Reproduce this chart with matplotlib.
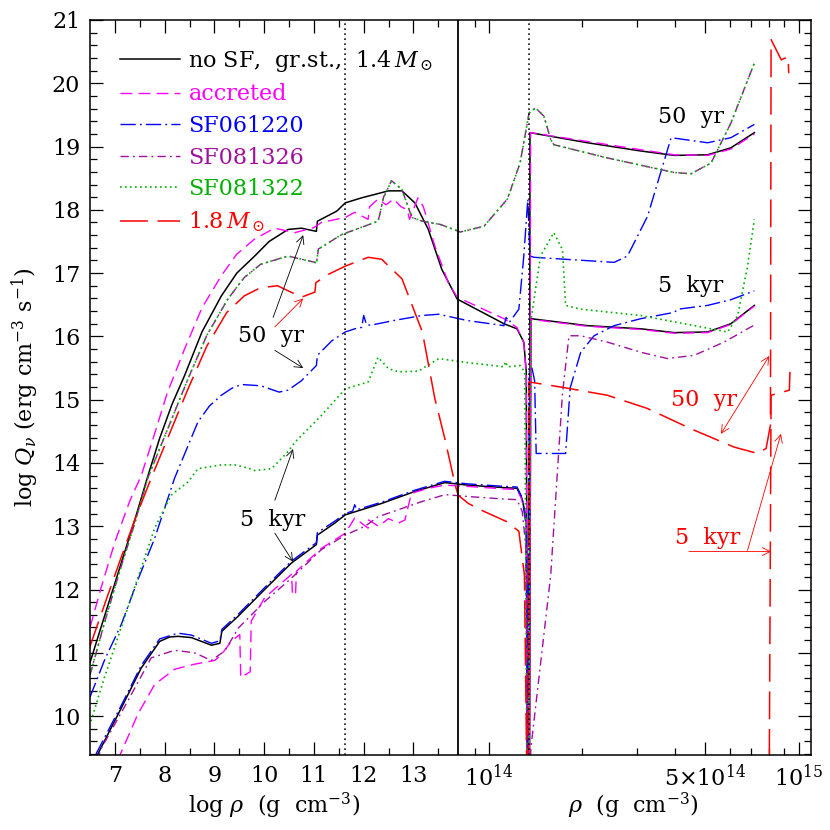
import numpy as np
import matplotlib
matplotlib.use("Agg")
import matplotlib.pyplot as plt
from matplotlib.ticker import FixedLocator, FixedFormatter, MultipleLocator

# curves: log rho (g cm^-3) and log Q_nu (erg cm^-3 s^-1)

# no SF, ground state crust, 1.4 Msun
nosf50_lr = [6.49, 6.8, 7.1, 7.4, 7.65, 7.9, 8.15, 8.4, 8.75, 9.14, 9.45, 9.81, 10.1, 10.48, 10.75, 11.05, 11.07,
             11.46, 11.63, 11.96, 12.5, 12.77, 13.03, 13.3, 13.57, 13.88, 14.048, 14.09, 14.112, 14.12, 14.124,
             14.13, 14.132, 14.318, 14.49, 14.598, 14.706, 14.781, 14.857]
nosf50_lq = [10.82, 11.6, 12.35, 13.1, 13.76, 14.39, 14.93, 15.38, 16.07, 16.64, 17.0, 17.27, 17.5, 17.69, 17.71, 17.66, 17.82,
             17.98, 18.11, 18.19, 18.30, 18.30, 18.11, 17.69, 17.06, 16.59, 16.20, 16.12, 15.91, 15.44, 9.0,
             9.0, 19.22, 19.06, 18.93, 18.86, 18.87, 18.98, 19.22]
nosf5_lr = [6.5, 6.69, 7.13, 7.53, 7.90, 8.10, 8.27, 8.54, 8.94, 9.11, 9.15, 9.48, 10.01, 10.55, 11.05, 11.07,
            11.42, 11.63, 12.36, 13.03, 13.63, 13.93, 14.048, 14.09, 14.106, 14.12, 14.124, 14.13, 14.135,
            14.318, 14.49, 14.598, 14.706, 14.781, 14.857]
nosf5_lq = [9.15, 9.45, 10.13, 10.76, 11.18, 11.25, 11.26, 11.24, 11.12, 11.15, 11.34, 11.58, 12.0, 12.42, 12.71, 12.86,
            13.05, 13.18, 13.36, 13.55, 13.69, 13.65, 13.61, 13.60, 13.44, 13.13, 9.0, 9.0, 16.28,
            16.17, 16.12, 16.06, 16.07, 16.2, 16.49]

# accreted crust
acc50_lr = [6.5, 6.72, 7.0, 7.3, 7.53, 7.77, 8.05, 8.4, 8.75, 9.14, 9.45, 9.81, 10.21, 10.62, 11.0, 11.15, 11.63,
            11.82, 12.09, 12.12, 12.29, 12.45, 12.6, 12.75, 12.88, 12.92, 13.0, 13.09, 13.2, 13.43, 13.70,
            13.88, 14.048, 14.09, 14.112, 14.12, 14.124, 14.13, 14.134, 14.318, 14.49, 14.598, 14.706,
            14.781, 14.857]
acc50_lq = [11.4, 12.02, 12.75, 13.4, 13.8, 14.39, 15.1, 15.80, 16.45, 16.96, 17.3, 17.54, 17.71, 17.64, 17.72, 17.80, 17.88,
            17.96, 17.85, 18.05, 18.17, 18.08, 18.17, 18.05, 18.0, 17.85, 18.0, 18.19, 18.05, 17.43, 16.85,
            16.62, 16.28, 16.14, 15.9, 15.4, 9.0, 9.0, 19.22, 19.08, 18.95, 18.87, 18.86,
            18.96, 19.2]
acc5_lr = [7.05, 7.14, 7.46, 7.80, 8.20, 8.60, 9.01, 9.14, 9.34, 9.51, 9.53, 9.72, 9.74, 10.01, 10.55, 10.57,
           10.63, 10.65, 11.15, 11.63, 11.82, 12.09, 12.1, 12.3, 12.5, 12.7, 12.83, 12.96, 13.3, 13.63, 13.93,
           14.048, 14.09, 14.106, 14.12, 14.124, 14.13, 14.135, 14.318, 14.49, 14.598, 14.706, 14.781, 14.857]
acc5_lq = [9.3, 9.45, 10.03, 10.50, 10.74, 10.82, 10.88, 10.97, 11.18, 11.29, 10.61, 10.70, 11.50, 11.87, 12.24, 11.92,
           11.92, 12.29, 12.65, 12.89, 13.13, 12.97, 13.1, 13.0, 13.12, 13.05, 13.10, 13.52, 13.6, 13.65, 13.63,
           13.59, 13.58, 13.42, 13.1, 9.0, 9.0, 16.27, 16.16, 16.11, 16.05, 16.06, 16.19, 16.48]

# SF061220
sf0612_50_lr = [6.5, 6.8, 7.13, 7.46, 7.80, 8.2, 8.67, 8.9, 9.14, 9.35, 9.54, 9.93, 10.30, 10.48, 10.75, 11.05, 11.07,
                11.36, 11.63, 11.90, 11.96, 12.0, 12.06, 12.16, 12.6, 13.17, 13.51, 13.93, 14.048, 14.055,
                14.065, 14.096, 14.112, 14.125, 14.132, 14.145, 14.404, 14.447, 14.512, 14.588, 14.706, 14.781,
                14.857]
sf0612_50_lq = [10.3, 10.9, 11.45, 12.15, 12.81, 13.76, 14.65, 14.9, 15.07, 15.18, 15.24, 15.22, 15.12, 15.15, 15.30, 15.54,
                15.70, 15.93, 16.07, 16.14, 16.14, 16.33, 16.18, 16.18, 16.25, 16.33, 16.35, 16.25, 16.17, 16.3,
                16.22, 16.43, 17.27, 18.17, 17.27, 17.25, 17.17, 17.27, 17.90, 19.14, 19.06, 19.14,
                19.35]
sf0612_5_lr = [6.62, 7.13, 7.53, 7.90, 8.27, 8.54, 8.94, 9.11, 9.15, 9.48, 10.01, 10.55, 11.05, 11.07, 11.42, 11.63,
               11.78, 11.82, 11.86, 12.36, 13.03, 13.63, 13.93, 14.048, 14.09, 14.106, 14.12, 14.124, 14.13,
               14.138, 14.147, 14.152, 14.247, 14.262, 14.296, 14.339, 14.404, 14.49, 14.598, 14.61, 14.706,
               14.781, 14.857]
sf0612_5_lq = [9.4, 10.17, 10.8, 11.22, 11.31, 11.28, 11.15, 11.19, 11.37, 11.61, 12.03, 12.45, 12.74, 12.9, 13.08, 13.2,
               13.24, 13.34, 13.26, 13.38, 13.57, 13.71, 13.67, 13.63, 13.62, 13.46, 13.0, 9.0, 15.45,
               15.51, 15.3, 14.15, 14.15, 15.19, 15.75, 16.01, 16.17, 16.28, 16.38, 16.43, 16.49,
               16.58, 16.72]

# SF081326 and SF081322 coincide at 50 yr
sf08_50_lr = [6.5, 6.8, 7.1, 7.4, 7.66, 8.47, 8.85, 9.27, 9.6, 9.93, 10.48, 11.02, 11.05, 11.09, 11.56, 12.29, 12.33,
              12.4, 12.56, 12.77, 12.97, 13.18, 13.54, 13.907, 13.983, 14.059, 14.10, 14.129, 14.15, 14.177,
              14.199, 14.209, 14.382, 14.598, 14.652, 14.717, 14.781, 14.857]
sf08_50_lq = [10.65, 11.5, 12.3, 13.05, 13.76, 15.33, 16.02, 16.59, 16.93, 17.14, 17.27, 17.17, 17.15, 17.38, 17.61, 17.82,
              17.95, 18.2, 18.46, 18.32, 17.88, 17.82, 17.77, 17.65, 17.74, 18.17, 18.74, 19.53, 19.61, 19.48,
              19.11, 19.03, 18.82, 18.59, 18.57, 18.74, 19.37, 20.32]
sf081326_5_lr = [6.65, 6.72, 7.26, 7.73, 8.20, 8.60, 8.94, 9.21, 9.48, 10.01, 10.55, 11.15, 11.63, 12.03, 12.29,
                 13.17, 13.64, 13.93, 14.048, 14.09, 14.107, 14.118, 14.124, 14.13, 14.135, 14.199, 14.237,
                 14.258, 14.296, 14.382, 14.49, 14.576, 14.662, 14.759, 14.857]
sf081326_5_lq = [9.3, 9.48, 10.24, 10.92, 11.04, 11.0, 10.88, 11.03, 11.39, 11.81, 12.18, 12.63, 12.86, 13.0, 13.15,
                 13.39, 13.50, 13.47, 13.43, 13.42, 13.23, 12.7, 9.0, 9.0, 9.5, 12.23, 15.1,
                 16.01, 16.01, 15.91, 15.75, 15.65, 15.70, 15.91, 16.18]
sf081322_5_lr = [6.52, 6.79, 7.46, 7.80, 8.13, 8.47, 8.67, 9.14, 9.41, 9.67, 9.81, 10.15, 10.48, 10.62, 11.15,
                 11.63, 12.09, 12.29, 12.50, 12.70, 13.1, 13.51, 13.923, 14.048, 14.052, 14.06, 14.10, 14.115,
                 14.122, 14.128, 14.134, 14.166, 14.209, 14.237, 14.247, 14.296, 14.49, 14.706, 14.771,
                 14.803, 14.835, 14.857]
sf081322_5_lq = [9.92, 10.61, 12.18, 12.97, 13.49, 13.70, 13.91, 13.97, 13.97, 13.92, 13.88, 13.91, 14.18, 14.33, 14.75,
                 15.17, 15.28, 15.67, 15.49, 15.44, 15.45, 15.65, 15.59, 15.52, 15.6, 15.52, 15.54, 15.44,
                 9.0, 9.0, 16.22, 17.27, 17.64, 17.37, 16.49, 16.43, 16.33, 16.13, 16.07,
                 16.33, 17.11, 17.85]

# 1.8 Msun
m18_50_lr = [6.49, 6.8, 7.1, 7.4, 7.73, 8.47, 8.85, 9.25, 9.6, 9.93, 10.27, 10.75, 11.02, 11.04, 11.29, 11.63, 12.09,
             12.36, 12.77, 13.18, 13.43, 13.63, 13.84, 13.9, 13.933, 13.972, 14.058, 14.096, 14.114, 14.122,
             14.126, 14.129, 14.231, 14.382, 14.512, 14.652, 14.792, 14.868, 14.895, 14.909, 14.911, 14.944,
             14.966, 14.968]
m18_50_lq = [11.08, 11.78, 12.45, 13.1, 13.76, 15.17, 15.85, 16.38, 16.64, 16.77, 16.80, 16.62, 16.70, 16.85, 16.98, 17.11, 17.25,
             17.22, 16.91, 16.07, 15.02, 14.39, 13.65, 13.49, 13.36, 13.26, 13.07, 12.92, 12.23, 9.0,
             9.0, 15.28, 15.20, 15.07, 14.86, 14.54, 14.25, 14.15, 14.23, 14.6, 20.69, 20.37,
             20.42, 20.16]
m18_5_lr = [14.13, 14.905, 14.911, 14.97, 14.972]
m18_5_lq = [9.0, 9.0, 15.07, 15.15, 15.44]

# crust boundaries: neutron drip, left/right panel joint, crust-core interface
drip_lr = 11.63
joint_lr = 13.9
core_lr = 14.128

B = joint_lr
K = 6.22   # stretch of the high-density part


def fwd(x):
    x = np.asarray(x, dtype=float)
    return np.where(x <= B, x, B + K * (x - B))


def inv(u):
    u = np.asarray(u, dtype=float)
    return np.where(u <= B, u, B + (u - B) / K)


plt.rcParams["font.family"] = "DejaVu Serif"
plt.rcParams["mathtext.fontset"] = "dejavuserif"
plt.rcParams["lines.scale_dashes"] = False

BLACK = "black"
MAG = "#ff00ff"
BLUE = "#0000ff"
PURP = "#a0109f"
GREEN = "#00b000"
RED = "#ff0000"

st_solid = "-"
st_dash = (0, (8.5, 4.5))
st_dashdot = (0, (11, 3, 1.3, 3))
st_dashdot2 = (0, (6, 3, 1.3, 3))
st_dot = (0, (1.2, 2.4))
st_long = (0, (20, 7))

fig = plt.figure(figsize=(8.3, 8.3), dpi=100)
ax = fig.add_axes([90 / 830, 75 / 830, 721 / 830, 735 / 830])
ax.set_xscale("function", functions=(fwd, inv))

lw = 1.0
ax.plot(nosf50_lr, nosf50_lq, color=BLACK, ls=st_solid, lw=1.1, label=r"no SF,  gr.st.,  1.4$\,M_\odot$")
ax.plot(nosf5_lr, nosf5_lq, color=BLACK, ls=st_solid, lw=1.1)
ax.plot(acc50_lr, acc50_lq, color=MAG, ls=st_dash, lw=lw, label="accreted")
ax.plot(acc5_lr, acc5_lq, color=MAG, ls=st_dash, lw=lw)
ax.plot(sf0612_50_lr, sf0612_50_lq, color=BLUE, ls=st_dashdot, lw=lw, label="SF061220")
ax.plot(sf0612_5_lr, sf0612_5_lq, color=BLUE, ls=st_dashdot, lw=lw)
ax.plot(sf08_50_lr, sf08_50_lq, color=PURP, ls=st_dashdot2, lw=lw, label="SF081326")
ax.plot(sf081326_5_lr, sf081326_5_lq, color=PURP, ls=st_dashdot2, lw=lw)
ax.plot(sf08_50_lr, sf08_50_lq, color=GREEN, ls=st_dot, lw=1.2, label="SF081322")
ax.plot(sf081322_5_lr, sf081322_5_lq, color=GREEN, ls=st_dot, lw=1.2)
ax.plot(m18_50_lr, m18_50_lq, color=RED, ls=st_long, lw=1.1, label=r"1.8$\,M_\odot$")
ax.plot(m18_5_lr, m18_5_lq, color=RED, ls=st_long, lw=1.1)

ax.axvline(drip_lr, color=BLACK, ls=(0, (1.2, 2.4)), lw=1.1)
ax.axvline(joint_lr, color=BLACK, ls="-", lw=1.3)
ax.axvline(core_lr, color=BLACK, ls=(0, (1.2, 2.4)), lw=1.1)

ax.set_xlim(6.5, 15.04)
ax.set_ylim(9.385, 21)

major_x = [7, 8, 9, 10, 11, 12, 13, 14, np.log10(5e14), 15]
major_lab = ["7", "8", "9", "10", "11", "12", "13", r"$10^{14}$", r"$5{\times}10^{14}$", r"$10^{15}$"]
minor_x = [7.5, 8.5, 9.5, 10.5, 11.5, 12.5, 13.5] + list(np.log10([9e13, 2e14, 3e14, 4e14, 6e14, 7e14, 8e14, 9e14]))
ax.xaxis.set_major_locator(FixedLocator(major_x))
ax.xaxis.set_major_formatter(FixedFormatter(major_lab))
ax.xaxis.set_minor_locator(FixedLocator(minor_x))
ax.yaxis.set_major_locator(MultipleLocator(1))
ax.yaxis.set_minor_locator(MultipleLocator(0.2))
ax.tick_params(which="both", direction="in", top=True, right=True, labelsize=16, width=0.9)
ax.tick_params(which="major", length=9.5, pad=7)
ax.tick_params(which="minor", length=5)
for s in ax.spines.values():
    s.set_linewidth(1.1)

ax.set_ylabel(r"log $Q_\nu$ (erg cm$^{-3}$ s$^{-1}$)", fontsize=16, labelpad=8)
fig.text(274 / 830, 1 - 806 / 830, r"log $\rho$  (g  cm$^{-3}$)", fontsize=16, ha="center", va="center")
fig.text(633 / 830, 1 - 806 / 830, r"$\rho$  (g  cm$^{-3}$)", fontsize=16, ha="center", va="center")

ax.legend(loc="upper left", bbox_to_anchor=(0.041, 0.962), frameon=False, fontsize=16,
          handlelength=2.7, handletextpad=0.4, labelspacing=0.43, borderpad=0, borderaxespad=0,
          labelcolor="linecolor")

arr = dict(arrowstyle="->", lw=0.6, shrinkA=0, shrinkB=0, mutation_scale=14)
ax.text(10.14, 16.0, "50  yr", fontsize=16, ha="center", va="center")
ax.annotate("", xy=(10.785, 17.6), xytext=(10.18, 16.3), arrowprops=dict(arr, color=BLACK))
ax.annotate("", xy=(10.785, 16.6), xytext=(10.215, 16.15), arrowprops=dict(arr, color=RED))
ax.annotate("", xy=(10.785, 15.5), xytext=(10.215, 15.78), arrowprops=dict(arr, color=BLACK))
ax.text(10.18, 13.1, "5  kyr", fontsize=16, ha="center", va="center")
ax.annotate("", xy=(10.58, 14.22), xytext=(10.215, 13.41), arrowprops=dict(arr, color=BLACK))
ax.annotate("", xy=(10.58, 12.44), xytext=(10.215, 12.89), arrowprops=dict(arr, color=BLACK))

ax.text(14.652, 19.47, "50  yr", fontsize=16, ha="center", va="center")
ax.text(14.652, 16.8, "5  kyr", fontsize=16, ha="center", va="center")
ax.text(14.695, 15.0, "50  yr", fontsize=16, ha="center", va="center", color=RED)
ax.annotate("", xy=(14.905, 15.69), xytext=(14.749, 14.46),
            arrowprops=dict(arr, arrowstyle="<->", color=RED))
ax.text(14.706, 12.81, "5  kyr", fontsize=16, ha="center", va="center", color=RED)
ax.annotate("", xy=(14.911, 12.6), xytext=(14.646, 12.6), arrowprops=dict(arr, color=RED))
ax.annotate("", xy=(14.943, 14.46), xytext=(14.835, 12.62), arrowprops=dict(arr, color=RED))

fig.savefig("out.png", dpi=100)
